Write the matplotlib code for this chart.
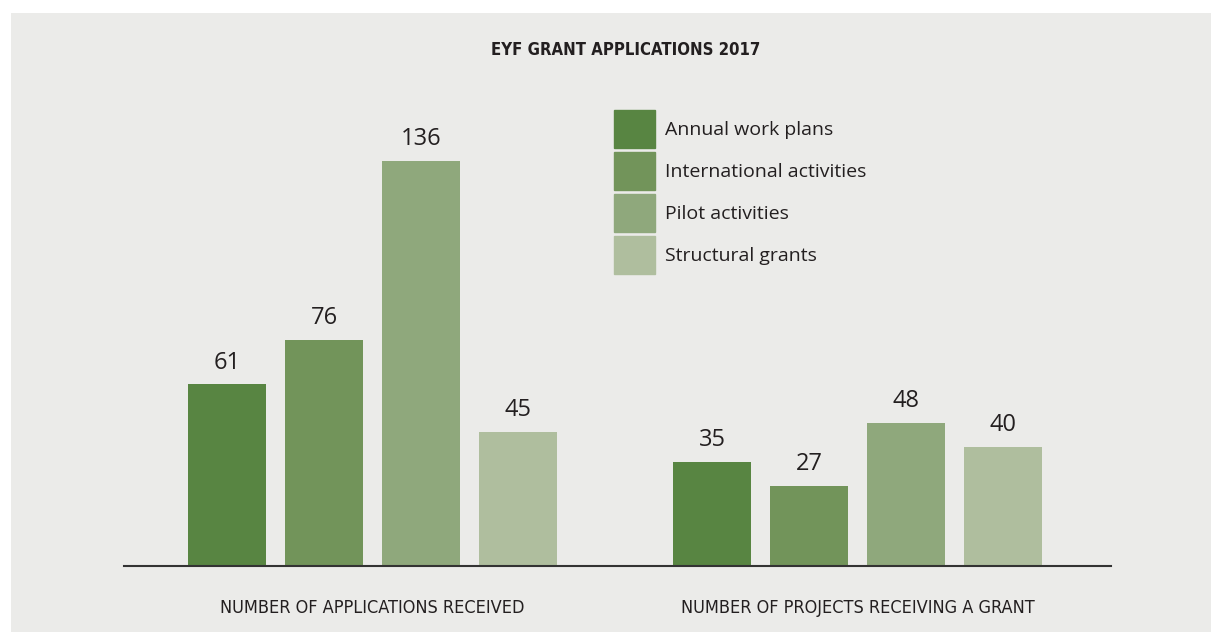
import matplotlib.pyplot as plt
import matplotlib.patches as mpatches
import numpy as np

# EYF grant applications 2017
groups = ["NUMBER OF APPLICATIONS RECEIVED", "NUMBER OF PROJECTS RECEIVING A GRANT"]
categories = ["Annual work plans", "International activities", "Pilot activities", "Structural grants"]
applications = [61, 76, 136, 45]
granted = [35, 27, 48, 40]
colors = ["#588542", "#72945A", "#8FA87C", "#AFBE9E"]

W, H = 1211, 632
fig = plt.figure(figsize=(W / 100, H / 100), dpi=100)
fig.patch.set_facecolor("white")
fig.patches.append(mpatches.Rectangle((11 / W, 0), 1, (H - 13) / H, transform=fig.transFigure,
                                      facecolor="#EBEBE9", edgecolor="none", zorder=-10))

# axes: baseline at y=566px, spans x 124..1111 px
ax = fig.add_axes([124 / W, (H - 566) / H, (1111 - 124) / W, (566 - 90) / H])
ax.set_facecolor("none")

x1 = np.arange(4)
x2 = np.arange(4) + 5
for i in range(4):
    b1 = ax.bar(x1[i], applications[i], width=0.8, color=colors[i])
    b2 = ax.bar(x2[i], granted[i], width=0.8, color=colors[i])
    ax.bar_label(b1, padding=7, fontsize=17, color="#231F20", family="Open Sans")
    ax.bar_label(b2, padding=7, fontsize=17, color="#231F20", family="Open Sans")

ax.set_xlim(-1.062, 9.113)
ax.set_ylim(0, 476 / 2.978)
for s in ["top", "right", "left"]:
    ax.spines[s].set_visible(False)
ax.spines["bottom"].set_color("#333333")
ax.spines["bottom"].set_linewidth(1.5)
ax.set_yticks([])
ax.set_xticks([1.5, 6.5])
ax.set_xticklabels(groups, family="DejaVu Sans", stretch="condensed", fontsize=13, color="#231F20")
ax.tick_params(axis="x", length=0, pad=24)

fig.text(626 / W, 1 - 50 / H, "EYF GRANT APPLICATIONS 2017", ha="center", va="center",
         fontsize=12, fontweight="bold", stretch="condensed", color="#231F20",
         family="DejaVu Sans")

handles = [mpatches.Patch(color=c) for c in colors]
ax.legend(handles, categories, loc="upper left", bbox_to_anchor=(614 / W, 1 - 110 / H),
          bbox_transform=fig.transFigure, frameon=False, labelcolor="#231F20",
          prop={"family": "Open Sans", "size": 14},
          handlelength=2.1, handleheight=2.63, labelspacing=0.2, handletextpad=0.5,
          borderpad=0, borderaxespad=0)

fig.savefig("out.png", dpi=100)
